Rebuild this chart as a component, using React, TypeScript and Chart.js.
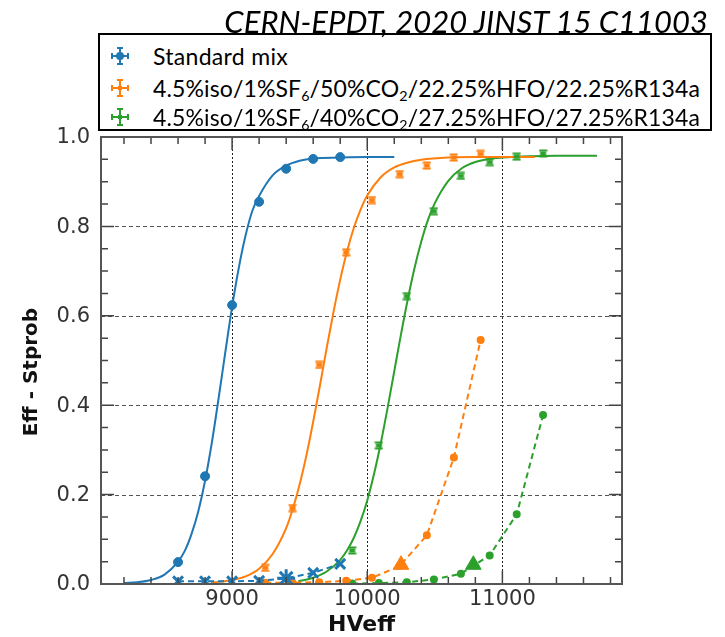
import React, { useEffect, useRef } from 'react';
import { Chart, registerables } from 'chart.js';

Chart.register(...registerables);

const TITLE = 'CERN-EPDT, 2020 JINST 15 C11003';
const X_TITLE = 'HVeff';
const Y_TITLE = 'Eff - Stprob';
const X_MAJOR = [9000, 10000, 11000];
const Y_MAJOR = [0, 0.2, 0.4, 0.6, 0.8, 1.0];
const X_MINOR_STEP = 200;
const Y_MINOR_STEP = 0.05;

// legend names: segments [text, isSubscript]
const NAME_STD: [string, boolean][] = [['Standard mix', false]];
const NAME_MIX1: [string, boolean][] = [['4.5%iso/1%SF', false], ['6', true], ['/50%CO', false], ['2', true], ['/22.25%HFO/22.25%R134a', false]];
const NAME_MIX2: [string, boolean][] = [['4.5%iso/1%SF', false], ['6', true], ['/40%CO', false], ['2', true], ['/27.25%HFO/27.25%R134a', false]];

// Standard mix
const stdHV = [8600, 8800, 9000, 9200, 9400, 9600, 9800];
const stdEff = [0.049, 0.241, 0.624, 0.855, 0.929, 0.951, 0.955];
const stdStprob = [0.006, 0.006, 0.006, 0.007, 0.013, 0.025, 0.045];
const stdFitHV = [8200, 8300, 8400, 8500, 8600, 8650, 8700, 8750, 8800, 8850, 8900, 8950, 9000, 9050, 9100, 9150, 9200, 9300, 9400, 9500, 9600, 9800, 10000, 10200];
const stdFitEff = [0.002, 0.004, 0.009, 0.021, 0.050, 0.074, 0.112, 0.163, 0.231, 0.316, 0.415, 0.519, 0.620, 0.708, 0.780, 0.835, 0.868, 0.914, 0.936, 0.947, 0.952, 0.954, 0.955, 0.955];

// 4.5%iso/1%SF6/50%CO2/22.25%HFO/22.25%R134a
const mix1HV = [9245, 9447, 9645, 9844, 10035, 10240, 10441, 10641, 10839];
const mix1Eff = [0.036, 0.17, 0.49, 0.742, 0.859, 0.917, 0.936, 0.954, 0.962];
const mix1Stprob = [0.003, 0.003, 0.004, 0.007, 0.014, 0.040, 0.109, 0.283, 0.546];
const mix1FitHV = [8845, 9000, 9100, 9200, 9300, 9400, 9450, 9500, 9550, 9600, 9650, 9700, 9750, 9800, 9850, 9900, 9950, 10000, 10100, 10200, 10300, 10400, 10600, 10800, 11000, 11240];
const mix1FitEff = [0.003, 0.009, 0.017, 0.034, 0.067, 0.125, 0.169, 0.223, 0.288, 0.363, 0.444, 0.528, 0.608, 0.681, 0.744, 0.796, 0.837, 0.869, 0.910, 0.932, 0.943, 0.949, 0.954, 0.955, 0.955, 0.955];
const mix1WPHV = [10250];
const mix1WPValue = [0.043];

// 4.5%iso/1%SF6/40%CO2/27.25%HFO/27.25%R134a
const mix2HV = [9889, 10086, 10293, 10493, 10693, 10906, 11106, 11301];
const mix2Eff = [0.075, 0.31, 0.644, 0.834, 0.913, 0.944, 0.956, 0.963];
const mix2Stprob = [0.001, 0.002, 0.004, 0.010, 0.023, 0.064, 0.156, 0.378];
const mix2FitHV = [9490, 9600, 9700, 9800, 9850, 9900, 9950, 10000, 10050, 10100, 10150, 10200, 10250, 10300, 10350, 10400, 10450, 10500, 10600, 10700, 10800, 10900, 11000, 11200, 11400, 11700];
const mix2FitEff = [0.006, 0.014, 0.028, 0.054, 0.075, 0.103, 0.140, 0.187, 0.246, 0.315, 0.393, 0.476, 0.559, 0.637, 0.707, 0.766, 0.815, 0.852, 0.902, 0.930, 0.944, 0.951, 0.954, 0.957, 0.958, 0.958];
const mix2WPHV = [10785];
const mix2WPValue = [0.043];

const BLUE = '#1f77b4';
const ORANGE = '#ff7f0e';
const GREEN = '#2ca02c';

const mk = (xs: number[], ys: number[]) => xs.map((x, i) => ({ x, y: ys[i] }));

function errMarker(color: string): HTMLCanvasElement {
  const c = document.createElement('canvas');
  c.width = 9;
  c.height = 9;
  const g = c.getContext('2d')!;
  g.fillStyle = color;
  g.fillRect(0.5, 0.5, 8, 2);
  g.fillRect(0.5, 6.5, 8, 2);
  g.fillRect(1.5, 2.5, 6, 4);
  return c;
}

const axesPlugin = {
  id: 'axesFrame',
  beforeDatasetsDraw(chart: any) {
    const { ctx, chartArea: a, scales } = chart;
    const x = scales.x;
    const y = scales.y;
    ctx.save();
    ctx.lineWidth = 1;
    ctx.strokeStyle = '#222';
    ctx.setLineDash([2, 2]);
    X_MAJOR.forEach((v) => {
      const px = Math.round(x.getPixelForValue(v)) + 0.5;
      ctx.beginPath();
      ctx.moveTo(px, a.top);
      ctx.lineTo(px, a.bottom);
      ctx.stroke();
    });
    ctx.strokeStyle = '#555';
    ctx.setLineDash([4, 3]);
    Y_MAJOR.forEach((v) => {
      const py = Math.round(y.getPixelForValue(v)) + 0.5;
      ctx.beginPath();
      ctx.moveTo(a.left, py);
      ctx.lineTo(a.right, py);
      ctx.stroke();
    });
    ctx.restore();
  },
  afterDraw(chart: any) {
    const { ctx, chartArea: a, scales } = chart;
    const x = scales.x;
    const y = scales.y;
    ctx.save();
    ctx.strokeStyle = '#444';
    ctx.lineWidth = 1.5;
    ctx.setLineDash([]);
    const isMajorX = (v: number) => X_MAJOR.some((m) => Math.abs(m - v) < 1e-6);
    const isMajorY = (v: number) => Y_MAJOR.some((m) => Math.abs(m - v) < 1e-6);
    const xStart = Math.ceil(x.min / X_MINOR_STEP) * X_MINOR_STEP;
    for (let v = xStart; v <= x.max; v += X_MINOR_STEP) {
      const len = isMajorX(v) ? 13 : 7;
      const px = x.getPixelForValue(v);
      ctx.beginPath();
      ctx.moveTo(px, a.bottom);
      ctx.lineTo(px, a.bottom - len);
      ctx.moveTo(px, a.top);
      ctx.lineTo(px, a.top + len);
      ctx.stroke();
    }
    for (let i = 0; i * Y_MINOR_STEP <= y.max + 1e-9; i++) {
      const v = Math.round(i * Y_MINOR_STEP * 100) / 100;
      const len = isMajorY(v) ? 13 : 7;
      const py = y.getPixelForValue(v);
      ctx.beginPath();
      ctx.moveTo(a.left, py);
      ctx.lineTo(a.left + len, py);
      ctx.moveTo(a.right, py);
      ctx.lineTo(a.right - len, py);
      ctx.stroke();
    }
    ctx.strokeStyle = '#555';
    ctx.lineWidth = 2;
    ctx.strokeRect(a.left, a.top, a.right - a.left, a.bottom - a.top);

    // tick labels
    ctx.fillStyle = '#333';
    ctx.font = '21px "DejaVu Sans"';
    ctx.textBaseline = 'middle';
    ctx.textAlign = 'center';
    X_MAJOR.forEach((v) => {
      ctx.fillText(String(v), x.getPixelForValue(v), a.bottom + 16);
    });
    ctx.textAlign = 'right';
    Y_MAJOR.forEach((v) => {
      ctx.fillText(v.toFixed(1), a.left - 11, y.getPixelForValue(v) + 1);
    });

    // axis titles
    ctx.fillStyle = '#111';
    ctx.textAlign = 'center';
    ctx.textBaseline = 'middle';
    ctx.font = 'bold 22px "DejaVu Sans"';
    ctx.fillText(X_TITLE, (a.left + a.right) / 2, 625);
    ctx.translate(32, 372);
    ctx.rotate(-Math.PI / 2);
    ctx.font = 'bold 20px "DejaVu Sans"';
    ctx.fillText(Y_TITLE, 0, 0);
    ctx.restore();
  },
};

function LegendMarker({ color, dot }: { color: string; dot: boolean }) {
  return (
    <svg width={20} height={20} style={{ display: 'block' }}>
      <g stroke={color} strokeWidth={2} fill="none">
        <line x1={10} y1={2} x2={10} y2={18} />
        <line x1={2} y1={10} x2={18} y2={10} />
        <line x1={7} y1={2} x2={13} y2={2} />
        <line x1={7} y1={18} x2={13} y2={18} />
        <line x1={2} y1={7} x2={2} y2={13} />
        <line x1={18} y1={7} x2={18} y2={13} />
      </g>
      {dot ? <circle cx={10} cy={10} r={4} fill={color} /> : <rect x={8} y={8} width={4} height={4} fill={color} />}
    </svg>
  );
}

function Label({ parts }: { parts: [string, boolean][] }) {
  return (
    <span>
      {parts.map(([t, sub], i) =>
        sub ? (
          <sub key={i} style={{ fontSize: '0.62em', verticalAlign: '-0.3em', lineHeight: 0 }}>{t}</sub>
        ) : (
          <span key={i}>{t}</span>
        )
      )}
    </span>
  );
}

export default function App() {
  const ref = useRef<HTMLCanvasElement>(null);

  useEffect(() => {
    if (!ref.current) return;
    const fitDs = (xs: number[], ys: number[], color: string) => ({
      data: mk(xs, ys),
      showLine: true,
      borderColor: color,
      borderWidth: 2,
      pointRadius: 0,
      cubicInterpolationMode: 'monotone' as const,
      order: 3,
    });
    const stdStyles = stdHV.map((_, i) => (i === 4 ? 'star' : 'crossRot'));
    const stdRadii = stdHV.map((_, i) => (i === 4 ? 9 : 7));
    const chart = new Chart(ref.current, {
      type: 'scatter',
      data: {
        datasets: [
          fitDs(stdFitHV, stdFitEff, BLUE),
          fitDs(mix1FitHV, mix1FitEff, ORANGE),
          fitDs(mix2FitHV, mix2FitEff, GREEN),
          {
            data: mk(stdHV, stdEff),
            pointStyle: 'circle',
            pointRadius: 4.5,
            backgroundColor: BLUE,
            borderColor: BLUE,
            showLine: false,
            order: 2,
          },
          {
            data: mk(mix1HV, mix1Eff),
            pointStyle: errMarker(ORANGE),
            backgroundColor: ORANGE,
            borderColor: ORANGE,
            showLine: false,
            order: 2,
          },
          {
            data: mk(mix2HV, mix2Eff),
            pointStyle: errMarker(GREEN),
            backgroundColor: GREEN,
            borderColor: GREEN,
            showLine: false,
            order: 2,
          },
          {
            data: mk(stdHV, stdStprob),
            showLine: true,
            borderColor: BLUE,
            borderWidth: 2,
            borderDash: [6, 4],
            pointStyle: stdStyles as any,
            pointRadius: stdRadii,
            pointBorderWidth: 3,
            pointBorderColor: BLUE,
            backgroundColor: BLUE,
            order: 1,
          },
          {
            data: mk(mix1HV, mix1Stprob),
            showLine: true,
            borderColor: ORANGE,
            borderWidth: 2,
            borderDash: [6, 4],
            pointStyle: 'circle',
            pointRadius: 3,
            backgroundColor: ORANGE,
            order: 1,
          },
          {
            data: mk(mix2HV, mix2Stprob),
            showLine: true,
            borderColor: GREEN,
            borderWidth: 2,
            borderDash: [6, 4],
            pointStyle: 'circle',
            pointRadius: 3,
            backgroundColor: GREEN,
            order: 1,
          },
          {
            data: mk(mix1WPHV, mix1WPValue),
            showLine: false,
            pointStyle: 'triangle',
            pointRadius: 9,
            backgroundColor: ORANGE,
            borderColor: ORANGE,
            order: 0,
          },
          {
            data: mk(mix2WPHV, mix2WPValue),
            showLine: false,
            pointStyle: 'triangle',
            pointRadius: 9,
            backgroundColor: GREEN,
            borderColor: GREEN,
            order: 0,
          },
        ] as any,
      },
      options: {
        animation: false,
        responsive: false,
        devicePixelRatio: 1,
        layout: { padding: { top: 137, right: 103, left: 0, bottom: 0 } },
        plugins: { legend: { display: false }, tooltip: { enabled: false } },
        scales: {
          x: {
            type: 'linear',
            min: 8030,
            max: 11885,
            grid: { display: false, drawTicks: false },
            border: { display: false },
            ticks: { display: false },
            afterFit: (s: any) => {
              s.height = 53;
            },
          },
          y: {
            type: 'linear',
            min: 0,
            max: 1.0,
            grid: { display: false, drawTicks: false },
            border: { display: false },
            ticks: { display: false },
            afterFit: (s: any) => {
              s.width = 101;
            },
          },
        },
      },
      plugins: [axesPlugin],
    });
    return () => chart.destroy();
  }, []);

  const rows: { parts: [string, boolean][]; color: string; dot: boolean; cy: number }[] = [
    { parts: NAME_STD, color: BLUE, dot: true, cy: 21 },
    { parts: NAME_MIX1, color: ORANGE, dot: false, cy: 53 },
    { parts: NAME_MIX2, color: GREEN, dot: false, cy: 82 },
  ];

  return (
    <div style={{ position: 'absolute', left: 0, top: 0, width: 725, height: 637, background: '#fff', overflow: 'hidden' }}>
      <canvas ref={ref} width={725} height={637} style={{ position: 'absolute', left: 0, top: 0 }} />
      <div
        style={{
          position: 'absolute',
          left: 98,
          top: 33,
          width: 614,
          height: 98,
          boxSizing: 'border-box',
          border: '2px solid #000',
          background: '#fff',
        }}
      >
        {rows.map((r, i) => (
          <div
            key={i}
            style={{
              position: 'absolute',
              left: 0,
              top: r.cy - 15,
              height: 30,
              whiteSpace: 'nowrap',
            }}
          >
            <div style={{ position: 'absolute', left: 10, top: 5 }}>
              <LegendMarker color={r.color} dot={r.dot} />
            </div>
            <div
              style={{
                position: 'absolute',
                left: 53,
                top: 0,
                height: 30,
                lineHeight: '30px',
                fontFamily: 'Lato, sans-serif',
                fontSize: 23,
                letterSpacing: i === 0 ? 0.3 : 0.12,
                color: '#000',
              }}
            >
              <Label parts={r.parts} />
            </div>
          </div>
        ))}
      </div>
      <div
        style={{
          position: 'absolute',
          right: 17,
          top: 3,
          zIndex: 2,
          fontFamily: 'Lato, sans-serif',
          fontStyle: 'italic',
          fontSize: 31,
          lineHeight: '36px',
          color: '#000',
          whiteSpace: 'nowrap',
        }}
      >
        {TITLE}
      </div>
    </div>
  );
}
